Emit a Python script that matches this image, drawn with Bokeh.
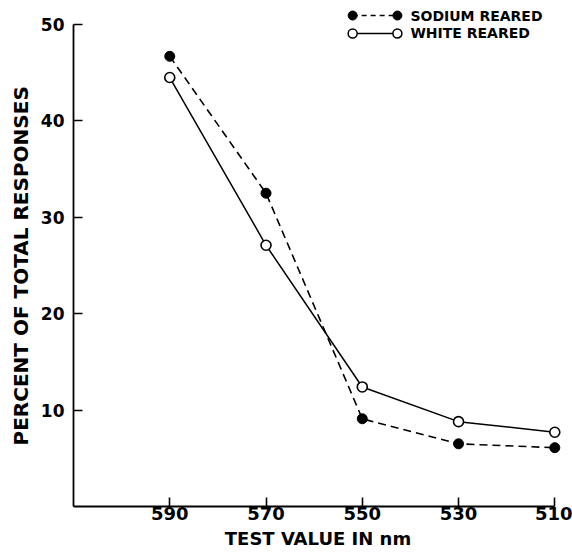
from bokeh.plotting import figure
from bokeh.models import Range1d, FixedTicker, Label, Title
from bokeh.embed import file_html
from bokeh.resources import INLINE

# ---- data ----
wavelength = [590, 570, 550, 530, 510]
sodium_reared = [46.7, 32.5, 9.1, 6.5, 6.1]
white_reared = [44.5, 27.1, 12.4, 8.8, 7.7]
x_tick_values = [590, 570, 550, 530, 510]
y_tick_values = [10, 20, 30, 40, 50]
series_names = ["SODIUM REARED", "WHITE REARED"]
x_title = "TEST VALUE IN nm"
y_title = "PERCENT OF TOTAL RESPONSES"

FONT = "DejaVu Sans"

p = figure(width=572, height=553, output_backend="svg", toolbar_location=None,
           x_range=Range1d(610, 508.4), y_range=Range1d(0, 52.49),
           min_border_left=73, min_border_right=10, min_border_top=0,
           min_border_bottom=47)
p.outline_line_color = None
p.xgrid.visible = False
p.ygrid.visible = False
p.background_fill_color = "white"
p.border_fill_color = "white"

for ax in (p.xaxis[0], p.yaxis[0]):
    ax.axis_line_color = "black"
    ax.axis_line_width = 1.8
    ax.major_tick_line_color = "black"
    ax.major_tick_line_width = 1.6
    ax.major_tick_out = 0
    ax.major_tick_in = 9
    ax.minor_tick_line_color = None
    ax.major_label_text_font = FONT
    ax.major_label_text_font_style = "bold"
    ax.major_label_text_color = "black"
    ax.axis_label_text_font = FONT
    ax.axis_label_text_font_style = "bold"
    ax.axis_label_text_color = "black"

xa = p.xaxis[0]
xa.ticker = FixedTicker(ticks=x_tick_values)
xa.bounds = (510, 610)
xa.axis_label = x_title
xa.axis_label_text_font_size = "18px"
xa.major_label_text_font_size = "18px"
xa.major_label_standoff = 0
xa.axis_label_standoff = 5

ya = p.yaxis[0]
ya.ticker = FixedTicker(ticks=y_tick_values)
ya.bounds = (0, 50)
ya.major_label_text_font_size = "17px"
ya.major_label_standoff = 9

# y title as a side title, starting a little above the frame bottom
p.add_layout(Title(text=y_title, align="left", offset=61, text_font=FONT,
                   text_font_style="bold", text_font_size="20px",
                   text_color="black"), "left")

# series
p.line(wavelength, sodium_reared, line_color="black", line_width=1.6, line_dash="8 5")
p.scatter(wavelength, sodium_reared, size=10, fill_color="black", line_color="black")
p.line(wavelength, white_reared, line_color="black", line_width=1.5)
p.scatter(wavelength, white_reared, size=10, fill_color="white", line_color="black",
          line_width=1.6)

# legend (top right, drawn as small swatches)
sw_x = [552.0, 542.7]
sw_y = [50.93, 49.07]
p.line(sw_x, [sw_y[0]] * 2, line_color="black", line_width=1.5, line_dash="5 4")
p.scatter(sw_x, [sw_y[0]] * 2, size=9, fill_color="black", line_color="black")
p.line(sw_x, [sw_y[1]] * 2, line_color="black", line_width=1.5)
p.scatter(sw_x, [sw_y[1]] * 2, size=9, fill_color="white", line_color="black",
          line_width=1.5)
for name, yy in zip(series_names, sw_y):
    p.add_layout(Label(x=540.0, y=yy, text=name, text_font=FONT,
                       text_font_style="bold", text_font_size="14px",
                       text_baseline="middle", text_align="left",
                       text_color="black"))

open("out.html", "w").write(file_html(p, INLINE))
